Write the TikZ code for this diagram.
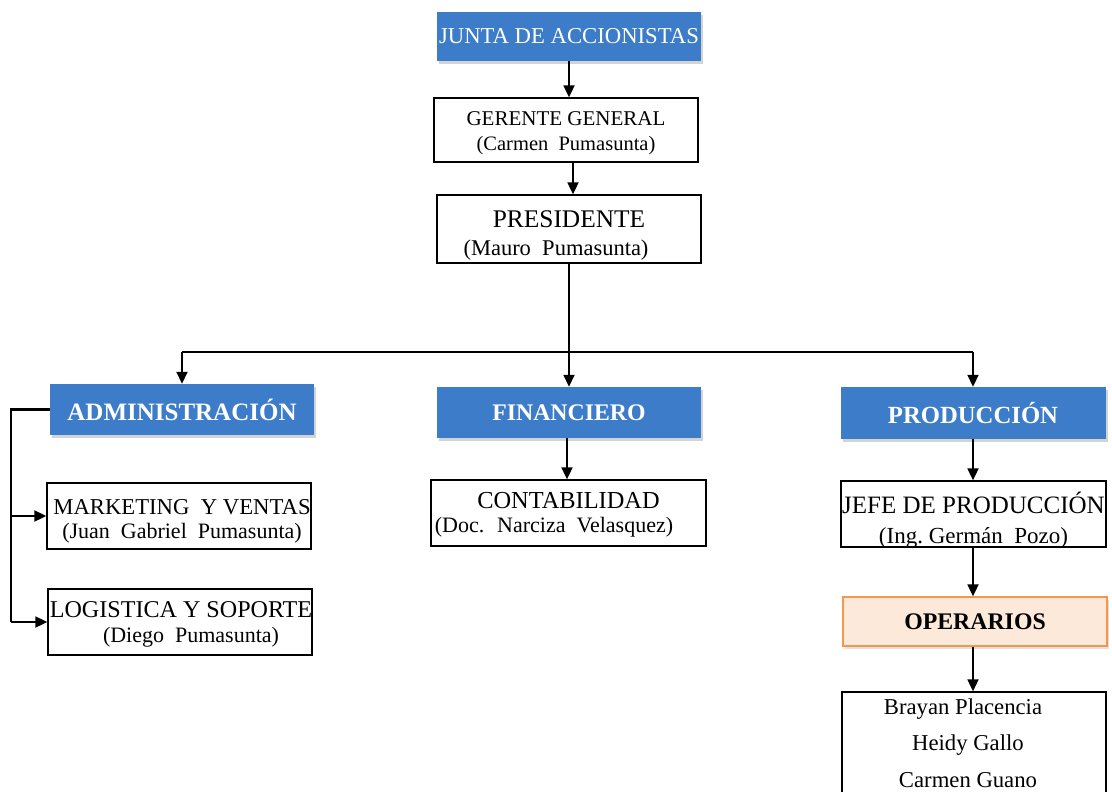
\documentclass[tikz,border=0pt]{standalone}
\usepackage{fontspec}
\setmainfont{Liberation Serif}
\usetikzlibrary{arrows.meta,shadows}
\definecolor{hdrblue}{RGB}{60,124,200}
\definecolor{operfill}{RGB}{253,233,217}
\definecolor{operline}{RGB}{245,150,75}
\newcommand{\fs}[2]{\fontsize{#1}{#2}\selectfont}
\tikzset{
  box/.style={draw=black, line width=1.3pt, fill=white, inner sep=0pt},
  hdr/.style={fill=hdrblue, text=white, inner sep=0pt, align=center,
    drop shadow={opacity=0.35, shadow xshift=2pt, shadow yshift=-3pt}},
  operbox/.style={draw=operline, line width=1.3pt, fill=operfill, inner sep=0pt, align=center,
    drop shadow={opacity=0.25, shadow xshift=2pt, shadow yshift=-3pt}},
  txt/.style={inner sep=0pt, align=center},
  conn/.style={line width=1.8pt, draw=black},
  arr/.style={conn, -{Triangle[length=12pt,width=11pt]}},
}
\begin{document}
\begin{tikzpicture}[x=1pt,y=-1pt]
\useasboundingbox (0,0) rectangle (1112,792);
\clip (0,0) rectangle (1112,792);
% top chain
\node[hdr, minimum width=264pt, minimum height=49pt, font=\fs{22.7}{26}] (junta) at (569,36.5) {JUNTA DE ACCIONISTAS};
\node[box, minimum width=264pt, minimum height=64pt] (gerente) at (566,130) {};
\node[txt, font=\fs{20.5}{25}] (gerente-t) at (566,133) {{\fs{21}{25}GERENTE GENERAL}\\(Carmen~ Pumasunta)};
\node[box, minimum width=264pt, minimum height=68pt] (presidente) at (569,229) {};
\node[txt, font=\fs{22.5}{28}] (presidente-t) at (569,235) {{\fs{25.4}{28}PRESIDENTE}\\(Mauro~ Pumasunta)\hspace*{26pt}};
% departments
\node[hdr, minimum width=264pt, minimum height=51pt, font=\fs{25}{27}\bfseries] (admin) at (182,409.5) {ADMINISTRACIÓN};
\node[hdr, minimum width=264pt, minimum height=51pt, font=\fs{23.8}{27}\bfseries] (fin) at (569,412.5) {FINANCIERO};
\node[hdr, minimum width=265pt, minimum height=52pt, font=\fs{24.7}{27}\bfseries] (prod) at (973,413) {PRODUCCIÓN};
% admin children
\node[box, minimum width=264pt, minimum height=66pt] (mark) at (179,516) {};
\node[txt, font=\fs{22}{24}] (mark-t) at (182,521) {{\fs{22.7}{24}MARKETING~ Y VENTAS}\\(Juan~ Gabriel~ Pumasunta)};
\node[box, minimum width=264pt, minimum height=66pt] (log) at (180,622) {};
\node[txt, font=\fs{22}{25}] (log-t) at (181,624.5) {{\fs{24.1}{25}LOGISTICA Y SOPORTE}\\\hspace*{20pt}(Diego~ Pumasunta)};
% financiero child
\node[box, minimum width=275pt, minimum height=66pt] (cont) at (568.5,513) {};
\node[txt, font=\fs{22}{24}] (cont-t) at (568.5,514.5) {{\fs{24.4}{24}CONTABILIDAD}\\(Doc.~ Narciza~ Velasquez)\hspace*{29pt}};
% produccion chain
\node[box, minimum width=265pt, minimum height=66pt] (jefe) at (973.5,514) {};
\node[txt, font=\fs{23}{30}] (jefe-t) at (973.5,520) {{\fs{25}{30}JEFE DE PRODUCCIÓN}\\(Ing.~Germán~ Pozo)};
\node[operbox, minimum width=264pt, minimum height=49pt, font=\fs{23.8}{27}\bfseries] (oper) at (975,621.5) {OPERARIOS};
\node[box, minimum width=264pt, minimum height=130pt] (names) at (974,757) {};
\node[txt, font=\fs{22.7}{36.5}] (names-t) at (968,743) {\hspace*{-10pt}Brayan Placencia\\Heidy Gallo\\Carmen Guano};
% connectors
\coordinate (busL) at (182,352);
\coordinate (busR) at (973,352);
\coordinate (busM) at (569,352);
\coordinate (rail) at (11,409.5);
\draw[arr] (junta.south) -- (junta.south |- gerente.north);
\draw[arr] ([xshift=7pt]gerente.south) -- ([xshift=7pt]gerente.south |- presidente.north);
\draw[conn] (presidente.south) -- (busM);
\draw[conn] (busL) -- (busR);
\draw[arr] (busL) -- (admin.north);
\draw[arr] (busM) -- (fin.north);
\draw[arr] (busR) -- (prod.north);
\draw[conn, line width=2.2pt] (admin.west) -- (rail) -- (rail |- log.west);
\draw[arr] (rail |- mark.west) -- (mark.west);
\draw[arr] (rail |- log.west) -- (log.west);
\draw[arr] ([xshift=-2pt]fin.south) -- ([xshift=-2pt]fin.south |- cont.north);
\draw[arr] (prod.south) -- (prod.south |- jefe.north);
\draw[arr] (busR |- jefe.south) -- (busR |- oper.north);
\draw[arr] (busR |- oper.south) -- (busR |- names.north);
\end{tikzpicture}
\end{document}
